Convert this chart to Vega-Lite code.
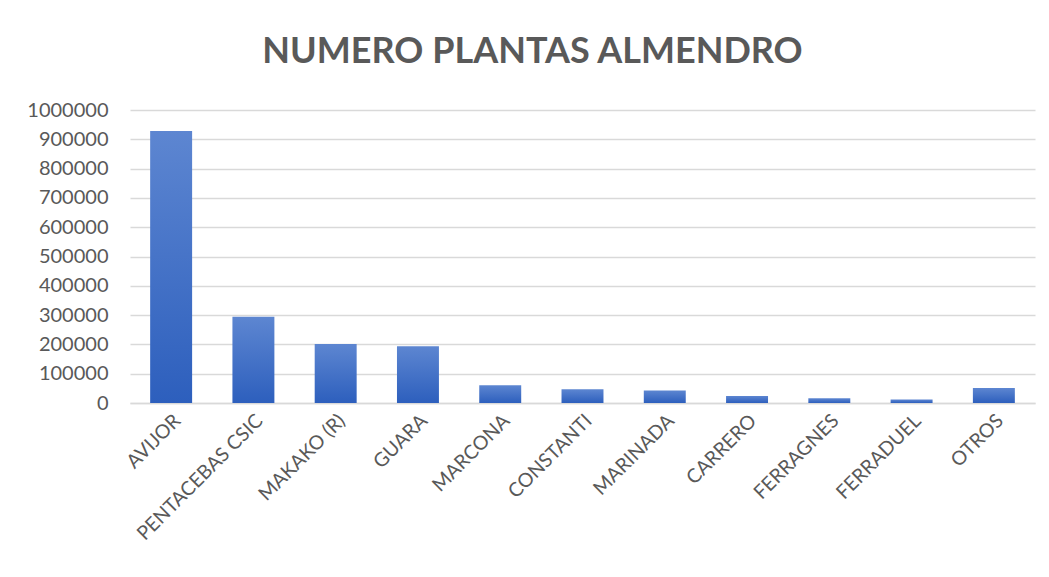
{
  "$schema": "https://vega.github.io/schema/vega-lite/v6.json",
  "width": 905,
  "height": 293,
  "autosize": {"type": "none"},
  "padding": {"left": 130, "top": 110, "right": 14, "bottom": 174},
  "background": "white",
  "title": {
    "text": "NUMERO PLANTAS ALMENDRO",
    "font": "Lato",
    "fontSize": 36,
    "fontWeight": "bold",
    "color": "#595959",
    "anchor": "middle",
    "dx": -50,
    "offset": 29
  },
  "data": {
    "values": [
      {"variedad": "AVIJOR", "plantas": 928000},
      {"variedad": "PENTACEBAS CSIC", "plantas": 294000},
      {"variedad": "MAKAKO (R)", "plantas": 201000},
      {"variedad": "GUARA", "plantas": 194000},
      {"variedad": "MARCONA", "plantas": 61000},
      {"variedad": "CONSTANTI", "plantas": 47000},
      {"variedad": "MARINADA", "plantas": 43000},
      {"variedad": "CARRERO", "plantas": 24000},
      {"variedad": "FERRAGNES", "plantas": 16000},
      {"variedad": "FERRADUEL", "plantas": 12000},
      {"variedad": "OTROS", "plantas": 51000}
    ]
  },
  "mark": {
    "type": "bar",
    "color": {
      "gradient": "linear",
      "x1": 0, "y1": 0, "x2": 0, "y2": 1,
      "stops": [
        {"offset": 0, "color": "#5d86d1"},
        {"offset": 1, "color": "#2d5fbd"}
      ]
    }
  },
  "encoding": {
    "x": {
      "field": "variedad",
      "type": "nominal",
      "sort": null,
      "title": null,
      "scale": {"paddingInner": 0.49, "paddingOuter": 0.245},
      "axis": {
        "labelAngle": -45,
        "labelFont": "Lato",
        "labelFontSize": 19.5,
        "labelColor": "#595959",
        "labelPadding": 8,
        "ticks": false,
        "domainColor": "#d9d9d9",
        "domainWidth": 1.5,
        "grid": false
      }
    },
    "y": {
      "field": "plantas",
      "type": "quantitative",
      "title": null,
      "scale": {"domain": [0, 1000000]},
      "axis": {
        "values": [0, 100000, 200000, 300000, 400000, 500000, 600000, 700000, 800000, 900000, 1000000],
        "format": "d",
        "labelFont": "Lato",
        "labelFontSize": 20,
        "labelColor": "#595959",
        "labelPadding": 22,
        "ticks": false,
        "domain": false,
        "gridColor": "#d9d9d9",
        "gridWidth": 1.5
      }
    }
  },
  "config": {"view": {"stroke": null}}
}
